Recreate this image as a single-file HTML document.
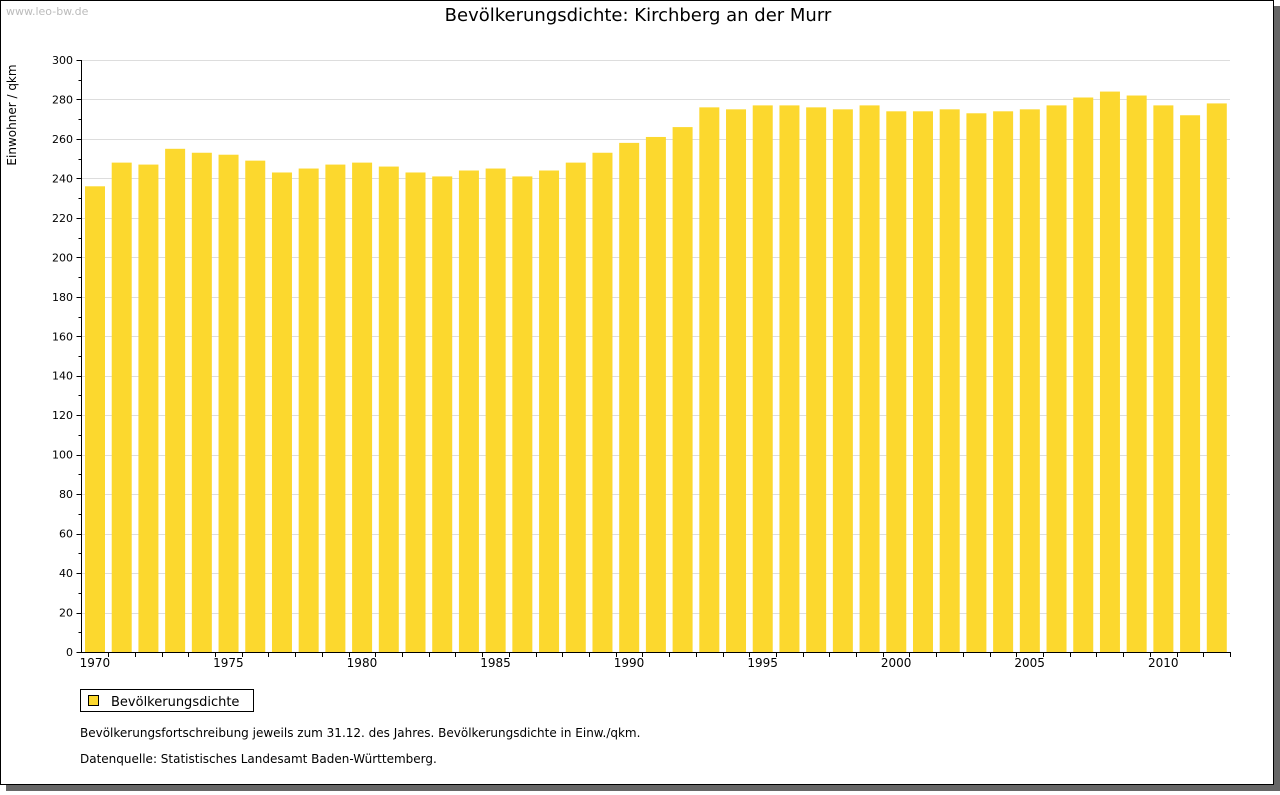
<!DOCTYPE html>
<html><head><meta charset="utf-8"><style>
body{margin:0;background:#fff;width:1280px;height:791px;overflow:hidden;font-family:"DejaVu Sans","Liberation Sans",sans-serif;}
</style></head><body>
<svg width="1280" height="791" style="font-family:'DejaVu Sans','Liberation Sans',sans-serif">
<rect x="6" y="6" width="1274" height="785" fill="#666"/>
<rect x="0.5" y="0.5" width="1273" height="784" fill="#fff" stroke="#000"/>
<text x="6" y="15" font-size="11" fill="#bbb">www.leo-bw.de</text>
<text x="638" y="21" font-size="18" text-anchor="middle">Bevölkerungsdichte: Kirchberg an der Murr</text>
<text transform="translate(16,115) rotate(-90)" font-size="12" text-anchor="middle">Einwohner / qkm</text>
<g id="grid"></g><g id="bars"></g><g id="axes"></g>
<rect x="80.5" y="689.5" width="173" height="22" fill="#fff" stroke="#000"/>
<rect x="88.5" y="695.5" width="10" height="10" fill="#fcd82e" stroke="#000"/>
<text x="111" y="706" font-size="13">Bevölkerungsdichte</text>
<text x="80" y="737" font-size="12">Bevölkerungsfortschreibung jeweils zum 31.12. des Jahres. Bevölkerungsdichte in Einw./qkm.</text>
<text x="80" y="763" font-size="12">Datenquelle: Statistisches Landesamt Baden-Württemberg.</text>
</svg>
<script>
const years=[1970,1971,1972,1973,1974,1975,1976,1977,1978,1979,1980,1981,1982,1983,1984,1985,1986,1987,1988,1989,1990,1991,1992,1993,1994,1995,1996,1997,1998,1999,2000,2001,2002,2003,2004,2005,2006,2007,2008,2009,2010,2011,2012];
const values=[236,248,247,255,253,252,249,243,245,247,248,246,243,241,244,245,241,244,248,253,258,261,266,276,275,277,277,276,275,277,274,274,275,273,274,275,277,281,284,282,277,272,278];
const yTicks=[0,20,40,60,80,100,120,140,160,180,200,220,240,260,280,300];
const xLabels=[1970,1975,1980,1985,1990,1995,2000,2005,2010];
const NS="http://www.w3.org/2000/svg";
const x0=81.5,x1=1230,y0=652,yTop=60,ymax=300;
const slot=(x1-x0)/years.length;
const y=v=>y0-(v/ymax)*(y0-yTop);
const xs=i=>x0+i*slot;
function mk(t,a,p){const e=document.createElementNS(NS,t);for(const k in a)e.setAttribute(k,a[k]);p.appendChild(e);return e;}
const G=document.getElementById('grid'),B=document.getElementById('bars'),A=document.getElementById('axes');
yTicks.forEach(v=>{
 if(v>0){const l=mk('line',{x1:x0,x2:x1,y1:Math.round(y(v))+.5,y2:Math.round(y(v))+.5,stroke:'#ddd'},G);
 
 }
 const t=mk('line',{x1:x0-5,x2:x0,y1:Math.round(y(v))+.5,y2:Math.round(y(v))+.5,stroke:'#000'},A);
 
 
 if(v<ymax){const m=mk('line',{x1:x0-3,x2:x0,y1:Math.round(y(v+10))+.5,y2:Math.round(y(v+10))+.5,stroke:'#000'},A);
 
 }
 const tx=mk('text',{x:73,y:y(v)+4,'font-size':11,'text-anchor':'end'},A);tx.textContent=v;
 
 
});
values.forEach((v,i)=>{
 const r=mk('rect',{x:xs(i)+3.5,y:y(v),width:20,height:y0-y(v),fill:'#fcd82e'},B);
 
 
 const t=mk('line',{x1:Math.round(xs(i+1))+.5,x2:Math.round(xs(i+1))+.5,y1:y0,y2:y0+5,stroke:'#000'},A);
 
 
});
xLabels.forEach(yr=>{
 const i=years.indexOf(yr);
 const t=mk('text',{x:xs(i)+slot/2,y:667,'font-size':12,'text-anchor':'middle'},A);t.textContent=yr;
 
 
});
const ax=mk('path',{d:`M${x0} ${yTop} V${y0+.5} H${x1}`,stroke:'#000',fill:'none'},A);


</script>
</body></html>
